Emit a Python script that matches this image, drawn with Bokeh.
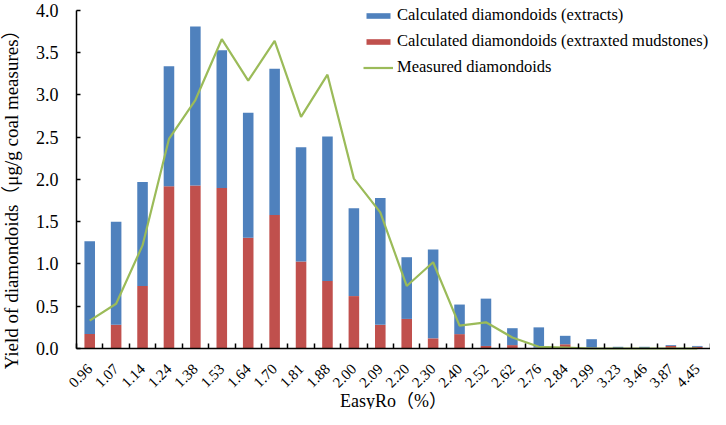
import math
from bokeh.plotting import figure
from bokeh.models import (Range1d, LinearAxis, FixedTicker, NumeralTickFormatter,
                          Legend, LegendItem, ColumnDataSource, Label)
from bokeh.embed import file_html
from bokeh.resources import INLINE

# ---- data ----
easyro = ["0.96", "1.07", "1.14", "1.24", "1.38", "1.53", "1.64", "1.70", "1.81", "1.88",
          "2.00", "2.09", "2.20", "2.30", "2.40", "2.52", "2.62", "2.76", "2.84", "2.99",
          "3.23", "3.46", "3.87", "4.45"]
mudstones = [0.17, 0.28, 0.74, 1.92, 1.93, 1.90, 1.31, 1.58, 1.03, 0.80,
             0.62, 0.28, 0.35, 0.12, 0.17, 0.03, 0.04, 0.01, 0.05, 0.01,
             0.00, 0.00, 0.03, 0.02]
extracts = [1.10, 1.22, 1.23, 1.42, 1.88, 1.63, 1.48, 1.73, 1.35, 1.71,
            1.04, 1.50, 0.73, 1.05, 0.35, 0.56, 0.20, 0.24, 0.10, 0.10,
            0.02, 0.02, 0.01, 0.01]
measured = [0.33, 0.53, 1.22, 2.48, 2.94, 3.66, 3.17, 3.64, 2.74, 3.24,
            2.01, 1.61, 0.74, 1.02, 0.27, 0.31, 0.13, 0.02, 0.01, 0.00,
            0.00, 0.00, 0.00, 0.00]
y_ticks = [0, 0.5, 1.0, 1.5, 2.0, 2.5, 3.0, 3.5, 4.0]
x_title = "EasyRo（%）"
y_title = "Yield of diamondoids（μg/g  coal measures）"

BLUE = "#4F81BD"
RED = "#C0504D"
GREEN = "#9BBB59"
FONT = "Liberation Serif, Times New Roman, Noto Sans CJK SC, serif"

n = len(easyro)
pos = list(range(n))
src = ColumnDataSource(dict(x=pos, mud=mudstones, ext=extracts, meas=measured))

# The drawing area covers the whole figure; both axes sit at fixed places inside
# it so that their rotated labels and titles have room around them.
W, H = 710, 409
p = figure(width=W, height=H, output_backend="svg", toolbar_location=None,
           x_range=Range1d(-3.377, n - 0.5), y_range=Range1d(-0.722, 4.118),
           x_axis_type=None, y_axis_type=None,
           min_border_left=0, min_border_right=0, min_border_top=0, min_border_bottom=0)
p.grid.visible = False
p.outline_line_color = None
p.background_fill_color = "white"

stack = p.vbar_stack(["mud", "ext"], x="x", width=0.4, source=src,
                     color=[RED, BLUE], line_color=None)
ln = p.line("x", "meas", source=src, line_color=GREEN, line_width=2.2)

# x axis: labels under bars, ticks between categories
xaxis = LinearAxis(ticker=FixedTicker(ticks=pos, minor_ticks=[i - 0.5 for i in range(n + 1)]),
                   major_label_overrides={i: lab for i, lab in enumerate(easyro)},
                   fixed_location=0, bounds=(-0.5, n - 0.5))
xaxis.major_tick_line_color = None
xaxis.minor_tick_line_color = "black"
xaxis.minor_tick_in = 5
xaxis.minor_tick_out = 0
xaxis.minor_tick_line_width = 1.5
xaxis.axis_line_color = "black"
xaxis.axis_line_width = 1.5
xaxis.major_label_orientation = math.pi / 4
xaxis.major_label_standoff = 12
xaxis.major_label_text_font = FONT
xaxis.major_label_text_font_size = "15px"
xaxis.major_label_text_color = "black"
p.add_layout(xaxis, "below")

yaxis = LinearAxis(ticker=FixedTicker(ticks=y_ticks, minor_ticks=[]),
                   formatter=NumeralTickFormatter(format="0.0"),
                   fixed_location=-0.5, bounds=(0, 4))
yaxis.major_tick_in = 4
yaxis.major_tick_out = 0
yaxis.major_tick_line_color = "black"
yaxis.major_tick_line_width = 1.5
yaxis.axis_line_color = "black"
yaxis.axis_line_width = 1.5
yaxis.major_label_standoff = 18
yaxis.major_label_text_font = FONT
yaxis.major_label_text_font_size = "18px"
yaxis.major_label_text_color = "black"
p.add_layout(yaxis, "left")

# axis titles
p.add_layout(Label(x=393, y=H - 400, x_units="screen", y_units="screen", text=x_title,
                   text_font=FONT, text_font_size="18px", text_color="black",
                   text_align="center", text_baseline="middle"))
p.add_layout(Label(x=11, y=H - 192, x_units="screen", y_units="screen", text=y_title,
                   angle=math.pi / 2,
                   text_font=FONT, text_font_size="19px", text_color="black",
                   text_align="center", text_baseline="middle"))

legend = Legend(items=[
    LegendItem(label="Calculated diamondoids (extracts)", renderers=[stack[1]]),
    LegendItem(label="Calculated diamondoids (extraxted mudstones)", renderers=[stack[0]]),
    LegendItem(label="Measured diamondoids", renderers=[ln]),
], location=(363, H - 5 - 72))
legend.border_line_color = None
legend.background_fill_alpha = 0
legend.padding = 0
legend.margin = 0
legend.spacing = 6
legend.glyph_width = 30
legend.glyph_height = 7
legend.label_height = 20
legend.label_standoff = 4
legend.label_text_font = FONT
legend.label_text_font_size = "16.5px"
legend.label_text_color = "black"
legend.click_policy = "none"
p.add_layout(legend, "center")

open("out.html", "w").write(file_html(p, INLINE))
